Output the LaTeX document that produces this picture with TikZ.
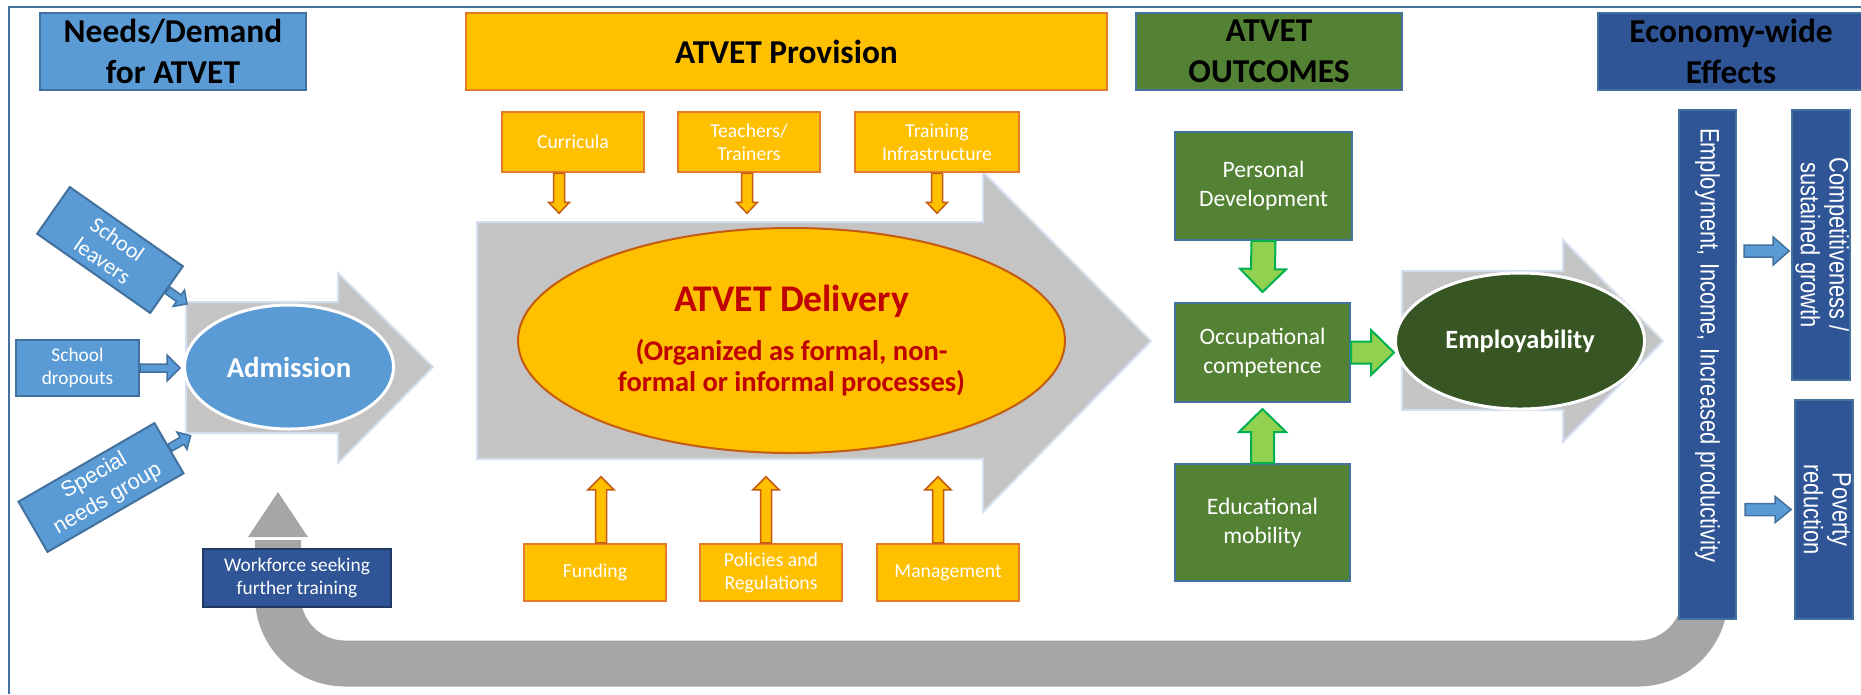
\documentclass[tikz,border=0pt]{standalone}
\usepackage{fontspec}
\setmainfont{Carlito}
\newfontfamily\arialfont{Liberation Sans}
\usepackage{graphicx}
\usepackage{tikz}
\usetikzlibrary{calc}
\usetikzlibrary{shapes.geometric}
\usepackage{xcolor}

\definecolor{blufill}{HTML}{5B9BD5}
\definecolor{bluline}{HTML}{41719C}
\definecolor{dkblue}{HTML}{2F5597}
\definecolor{wfline}{HTML}{1F3864}
\definecolor{orgfill}{HTML}{FFC000}
\definecolor{orgline}{HTML}{E47A2A}
\definecolor{orgdark}{HTML}{C55A11}
\definecolor{grnfill}{HTML}{548235}
\definecolor{empgreen}{HTML}{375623}
\definecolor{ltgreen}{HTML}{92D050}
\definecolor{grnedge}{HTML}{00B050}
\definecolor{arrgrey}{HTML}{C4C4C4}
\definecolor{arredge}{HTML}{D3DFEE}
\definecolor{bandgrey}{HTML}{A6A6A6}
\definecolor{dred}{HTML}{C00000}

% block arrow: style, from, to, half shaft, half head, head length
\newcommand{\barrow}[6][]{%
\coordinate (bA) at #2;
\coordinate (bB) at #3;
\coordinate (bC) at ($(bB)!#6!(bA)$);
\draw[#1] ($(bA)!#4!90:(bB)$)--($(bC)!#4!90:(bB)$)--($(bC)!#5!90:(bB)$)--(bB)--($(bC)!#5!-90:(bB)$)--($(bC)!#4!-90:(bB)$)--($(bA)!#4!-90:(bB)$)--cycle;
}

\begin{document}
\begin{tikzpicture}[x=0.1mm, y=-0.1mm,
  hdr/.style={draw, line width=0.2mm, minimum width=26.6mm, minimum height=7.7mm, inner sep=0pt, align=center, font=\fontsize{9.5}{11.6}\selectfont\bfseries},
  sub/.style={draw=orgline, fill=orgfill, line width=0.25mm, text=white, align=center, minimum width=14.2mm, minimum height=6mm, inner sep=0pt, font=\fontsize{5.6}{6.5}\selectfont},
  grn/.style={draw=bluline, fill=grnfill, line width=0.2mm, text=white, align=center, inner sep=0pt, font=\fontsize{6.7}{8.2}\selectfont},
  blubox/.style={draw=bluline, fill=blufill, line width=0.2mm, text=white, align=center, inner sep=0pt, font=\fontsize{5.5}{6.6}\selectfont},
  vbar/.style={draw=bluline, fill=dkblue, line width=0.2mm, text=white, rotate=-90, inner sep=0pt, align=center, font=\arialfont\fontsize{7.6}{8.2}\selectfont},
  oarr/.style={fill=orgfill, draw=orgdark, line width=0.15mm},
  garr/.style={fill=ltgreen, draw=grnedge, line width=0.2mm},
  barr/.style={fill=blufill, draw=bluline, line width=0.15mm},
  greyarr/.style={fill=arrgrey, draw=arredge, line width=0.2mm}]

\useasboundingbox (0,0) rectangle (1861,694);

%%%%%% frame %%%%%%
\draw[bluline, line width=0.2mm] (9,694)--(9,7)--(1861,7);

%%%%%%%%%% return loop %%%%%%%%
{
\draw[bandgrey, line width=4.6mm, rounded corners=6.7mm] (278,540)--(278,663.5)--(1705,663.5)--(1705,610);
\fill[bandgrey] (248,537)--++(60,0)--++(-30,-45)--cycle;
}

%%%%%%%%%% grey process arrows %%%%%%%%
{
\draw[greyarr] (186,302)--++(152,0)--++(0,-29)--++(95,94)--++(-95,96)--++(0,-30)--++(-152,0)--cycle;
\draw[greyarr] (477,222)--++(506,0)--++(0,-50)--++(168,169)--++(-168,171)--++(0,-53)--++(-506,0)--cycle;
\draw[greyarr] (1402,271)--++(161,0)--++(0,-31)--++(100,101)--++(-100,101)--++(0,-32)--++(-161,0)--cycle;
}

%%%%%%%%%% headers %%%%%%%%
{
\node[hdr, fill=blufill, draw=bluline] (needs) at (173,51.5) {Needs/Demand\\for ATVET};
\node[hdr, fill=orgfill, draw=orgline, minimum width=64.1mm] (prov) at (786.5,51.5) {ATVET Provision};
\node[hdr, fill=grnfill, draw=bluline] (outc) at (1269,51.5) {ATVET\\OUTCOMES};
\node[hdr, fill=dkblue, draw=bluline] (econ) at (1731,51.5) {Economy-wide\\Effects};
}

%%%%%%%%%% needs side %%%%%%%%
{
\node[blubox, rotate=-35, minimum width=13.8mm, minimum height=5.7mm, font=\fontsize{6.3}{7.4}\selectfont] (sl) at (110,250) {School\\leavers};
\node[blubox, minimum width=12.3mm, minimum height=5.6mm] (sd) at (77.5,368) {School\\dropouts};
\node[blubox, rotate=30, minimum width=15.7mm, minimum height=5.8mm, font=\arialfont\fontsize{6.2}{7.6}\selectfont] (sn) at (101,487.5) {Special\\needs group};
\node[blubox, fill=dkblue, draw=wfline, minimum width=18.8mm, minimum height=5.8mm] (wf) at (297,578) {Workforce seeking\\further training};

\node[ellipse, fill=blufill, draw=white, line width=0.3mm, minimum width=20.9mm, minimum height=12.4mm, inner sep=0pt, text=white, font=\fontsize{8.2}{9}\selectfont\bfseries] (adm) at (289,367) {Admission};

\barrow[barr]{(sl.east)}{($(sl.east)!-2.4mm!(sl.center)$)}{0.4mm}{1mm}{1mm};
\barrow[barr]{(sd.east)}{($(sd.east)+(40,0)$)}{0.4mm}{1.3mm}{1.3mm};
\barrow[barr]{(sn.east)}{($(sn.east)!-2.4mm!(sn.center)$)}{0.4mm}{1mm}{1mm};
}

%%%%%%%%%% provision %%%%%%%%
{
\node[ellipse, fill=orgfill, draw=orgdark, line width=0.2mm, minimum width=54.7mm, minimum height=22.5mm, inner sep=0pt, text=dred, align=center, font=\fontsize{8.1}{8.8}\selectfont\bfseries] (dlv) at (791.5,340.5) {{\fontsize{10.7}{12}\selectfont ATVET Delivery}\\[1.8mm](Organized as formal, non-\\formal or informal processes)};

\node[sub] (cur) at (573,142) {Curricula};
\node[sub] (tea) at (749,142) {Teachers/\\Trainers};
\node[sub, minimum width=16.4mm] (tra) at (937,142) {Training\\Infrastructure};
\node[sub, minimum height=5.7mm] (fun) at (595,572.5) {Funding};
\node[sub, minimum height=5.7mm] (pol) at (771,572.5) {Policies and\\Regulations};
\node[sub, minimum height=5.7mm] (man) at (948,572.5) {Management};

\foreach \n/\dx in {cur/-14,tea/-2,tra/0}
  \barrow[oarr]{($(\n.south)+(\dx,0)$)}{($(\n.south)+(\dx,40)$)}{0.55mm}{1.05mm}{1.1mm};
\foreach \n/\dx in {fun/6,pol/-5,man/-10}
  \barrow[oarr]{($(\n.north)+(\dx,0)$)}{($(\n.north)+(\dx,-66)$)}{0.55mm}{1.3mm}{1.3mm};
}

%%%%%%%%%% outcomes %%%%%%%%
{
\node[grn, minimum width=17.7mm, minimum height=10.8mm] (pers) at (1263.5,186) {Personal\\Development};
\node[grn, minimum width=17.5mm, minimum height=9.9mm] (occ) at (1262.5,352.5) {Occupational\\competence};
\node[grn, minimum width=17.5mm, minimum height=11.7mm] (edu) at (1262.5,522.5) {Educational\\mobility};

\node[ellipse, fill=empgreen, draw=white, line width=0.3mm, minimum width=24.9mm, minimum height=13.6mm, inner sep=0pt, text=white, font=\fontsize{7.5}{9}\selectfont\bfseries] (emp) at (1520,341) {Employability};

\barrow[garr]{(pers.south)}{($(occ.north)+(0,-10)$)}{1.2mm}{2.3mm}{2.3mm};
\barrow[garr]{(edu.north)}{($(occ.south)+(0,6)$)}{1.15mm}{2.35mm}{2.3mm};
\barrow[garr]{(occ.east)}{(occ.east -| emp.west)}{1.1mm}{2.25mm}{2.3mm};
}

%%%%%%%%%% economy-wide effects %%%%%%%%
{
\node[vbar, minimum width=50.9mm, minimum height=5.7mm, text width=47.3mm, inner xsep=1.8mm, align=left] (empl) at (1707.5,364.5) {\scalebox{0.82}[1]{Employment, Income, Increased productivity}};
\node[vbar, minimum width=27mm, minimum height=5.6mm] (comp) at (1821,245) {\scalebox{0.82}[1]{\begin{tabular}{@{}c@{}}Competitiveness /\\sustained growth\end{tabular}}};
\node[vbar, minimum width=21.9mm, minimum height=5.6mm] (pov) at (1824,509.5) {\scalebox{0.82}[1]{\begin{tabular}{@{}c@{}}Poverty\\reduction\end{tabular}}};

\barrow[barr]{($(empl.north |- comp.south)+(7,6)$)}{($(comp.south)+(-2,6)$)}{0.6mm}{1.4mm}{1.6mm};
\barrow[barr]{($(empl.north |- pov.south)+(8,0)$)}{($(pov.south)+(-3,0)$)}{0.6mm}{1.3mm}{1.6mm};
}

\end{tikzpicture}
\end{document}
